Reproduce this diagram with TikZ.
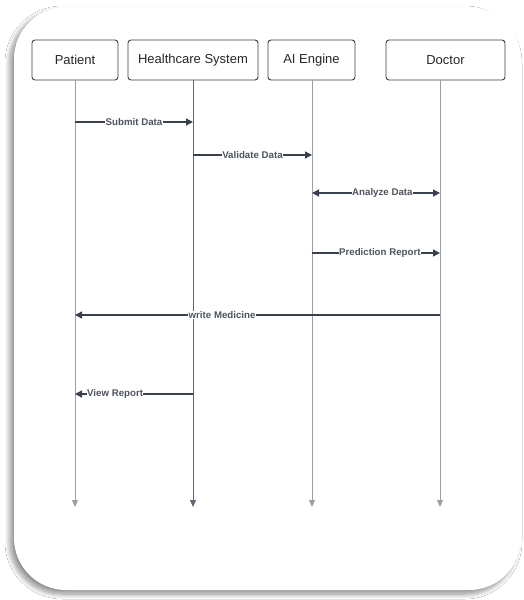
\documentclass[tikz,border=0pt]{standalone}
\usepackage{fontspec}
\setmainfont{Liberation Sans}
\usetikzlibrary{arrows.meta,shadows.blur}
\definecolor{lifec}{HTML}{9AA0A8}
\definecolor{msgc}{HTML}{3A414C}
\definecolor{boxc}{HTML}{3C3C3C}
\tikzset{
  x=1pt,y=-1pt,
  actor/.style={draw=boxc,line width=0.9pt,rounded corners=3pt,fill=white,minimum height=40pt,inner sep=0pt,font=\fontsize{13}{15}\selectfont,text=black!85},
  life/.style={draw=lifec,line width=1pt,-{Triangle[length=7pt,width=6pt]}},
  msg/.style={draw=msgc,line width=1.3pt,-{Triangle[length=7pt,width=7pt]}},
  msgb/.style={draw=msgc,line width=1.3pt,{Triangle[length=7pt,width=7pt]}-{Triangle[length=7pt,width=7pt]}},
  lbl/.style={fill=white,inner sep=0.3pt,font=\bfseries\fontsize{9.7}{11}\selectfont,text=msgc!90},
}
\begin{document}
\begin{tikzpicture}
\useasboundingbox (0,0) rectangle (523,600);
\fill[white] (0,0) rectangle (523,600);
\path[fill=white,rounded corners=52pt,blur shadow={shadow xshift=-4pt,shadow yshift=-4pt,shadow blur steps=12,shadow blur radius=5pt,shadow opacity=45}] (14,7) rectangle (521,590);
% actors
\node[actor,minimum width=86pt] (pat) at (75,60) {Patient};
\node[actor,minimum width=130pt] (hs) at (193,60) {Healthcare System};
\node[actor,minimum width=87pt] (ai) at (311.5,60) {AI Engine};
\node[actor,minimum width=119pt] (doc) at (445.5,60) {Doctor};
% lifeline ends
\coordinate (pe) at (75,507);
\coordinate (he) at (193,507);
\coordinate (ae) at (312,507);
\coordinate (de) at (440,507);
\draw[life] (pat.south) -- (pe);
\draw[life,draw=msgc!80] (hs.south) -- (he);
\draw[life] (312,80) -- (ae);
\draw[life] (440,80) -- (de);
% message points
\coordinate (p1) at (75,122); \coordinate (h1) at (193,122);
\coordinate (h2) at (193,155); \coordinate (a2) at (312,155);
\coordinate (a3) at (312,193); \coordinate (d3) at (440,193);
\coordinate (a4) at (312,253); \coordinate (d4) at (440,253);
\coordinate (d5) at (440,315); \coordinate (p5) at (75,315);
\coordinate (h6) at (193,394); \coordinate (p6) at (75,394);
\draw[msg] (p1) -- node[lbl,pos=0.5] (l1) {Submit Data} (h1);
\draw[msg] (h2) -- node[lbl,pos=0.5] (l2) {Validate Data} (a2);
\draw[msgb] (a3) -- node[lbl,pos=0.55] (l3) {Analyze Data} (d3);
\draw[msg] (a4) -- node[lbl,pos=0.53] (l4) {Prediction Report} (d4);
\draw[msg] (d5) -- node[lbl,pos=0.597] (l5) {write Medicine} (p5);
\draw[msg] (h6) -- node[lbl,pos=0.66] (l6) {View Report} (p6);
\end{tikzpicture}
\end{document}
